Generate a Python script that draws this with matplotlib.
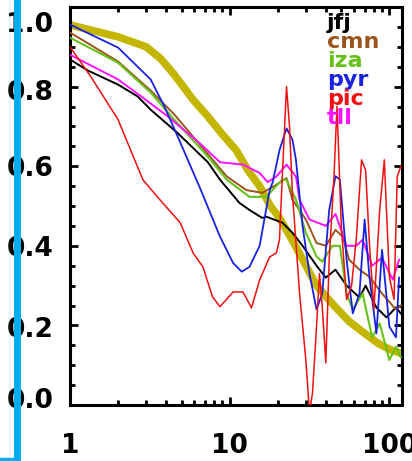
import matplotlib
matplotlib.use("Agg")
import matplotlib.pyplot as plt
from matplotlib.lines import Line2D
from matplotlib.transforms import ScaledTranslation
from matplotlib.ticker import LogLocator, FixedLocator, NullFormatter, FixedFormatter

# ---------------- data ----------------
model_x = [1, 2, 3, 3.7, 4.5, 5.9, 7.3, 9, 11, 13, 15.4, 18, 20.5, 25, 30, 35, 45, 56, 70, 85, 100, 118]
model_y = [0.955, 0.925, 0.90, 0.87, 0.83, 0.767, 0.725, 0.68, 0.64, 0.59, 0.55, 0.50, 0.47, 0.41, 0.35, 0.30,
           0.25, 0.21, 0.18, 0.155, 0.14, 0.13]

jfj_x = [1, 1.3, 2, 2.66, 3.2, 4.7, 7.3, 8.7, 11.5, 13.3, 16, 17, 21.4, 24.7, 28.6, 35, 40, 46, 54, 65, 71, 83, 96, 110, 118]
jfj_y = [0.868, 0.84, 0.805, 0.775, 0.742, 0.684, 0.61, 0.566, 0.508, 0.49, 0.47, 0.473, 0.458, 0.433, 0.40,
         0.35, 0.32, 0.34, 0.30, 0.27, 0.30, 0.245, 0.22, 0.245, 0.23]

cmn_x = [1, 2, 3.2, 4.5, 6.8, 9.6, 12.7, 16, 19, 22.7, 24.7, 30, 35, 40, 46, 51, 56, 65, 75, 90, 110, 118]
cmn_y = [0.936, 0.863, 0.79, 0.73, 0.645, 0.574, 0.54, 0.533, 0.55, 0.57, 0.516, 0.466, 0.407, 0.40, 0.44,
         0.423, 0.365, 0.34, 0.322, 0.28, 0.24, 0.25]

iza_x = [1, 2, 3.2, 4.5, 7.3, 9.6, 13.3, 17, 19, 21.4, 22.7, 26, 30, 35, 38, 44, 49, 54, 59, 68, 78, 87, 100, 110, 118]
iza_y = [0.923, 0.86, 0.785, 0.717, 0.624, 0.566, 0.523, 0.523, 0.545, 0.566, 0.566, 0.516, 0.433, 0.373,
         0.36, 0.40, 0.40, 0.28, 0.24, 0.28, 0.17, 0.205, 0.113, 0.146, 0.12]

pyr_x = [1, 2, 3.2, 3.9, 4.9, 6.6, 8.7, 10.5, 11.9, 13.3, 15.4, 17.8, 18.6, 20.5, 22.7, 24.7, 26, 28.6, 31.6,
         35, 38, 42, 46, 49, 54, 59, 65, 70, 75, 83, 90, 100, 110, 115]
pyr_y = [0.956, 0.898, 0.818, 0.75, 0.66, 0.54, 0.423, 0.357, 0.335, 0.347, 0.40, 0.54, 0.56, 0.64, 0.695,
         0.667, 0.616, 0.45, 0.33, 0.24, 0.28, 0.49, 0.575, 0.566, 0.365, 0.23, 0.28, 0.466, 0.322, 0.18,
         0.39, 0.197, 0.17, 0.32]

pic_x = [1, 1.35, 2, 2.86, 3.65, 4.9, 5.9, 6.8, 7.8, 8.7, 10.5, 12.1, 13.7, 15.4, 17.8, 19.6, 20.5, 21.5,
         22.7, 23.7, 24.7, 27.4, 30, 31.6, 33, 35, 36.5, 38, 40, 42, 45, 47, 50, 54, 58, 62, 67, 71, 75, 80,
         87, 93, 100, 107, 112, 118]
pic_y = [0.90, 0.825, 0.717, 0.566, 0.516, 0.458, 0.382, 0.347, 0.272, 0.247, 0.284, 0.284, 0.244, 0.314,
         0.372, 0.382, 0.415, 0.60, 0.80, 0.70, 0.533, 0.28, 0.113, -0.02, 0.03, 0.197, 0.33, 0.247, 0.106,
         0.365, 0.574, 0.75, 0.45, 0.265, 0.30, 0.415, 0.616, 0.59, 0.407, 0.24, 0.49, 0.616, 0.322, 0.265,
         0.574, 0.60]

tll_x = [1, 2, 2.8, 4.1, 6.6, 8.7, 12.1, 15.4, 17.3, 19.6, 22.7, 26, 27.4, 31.6, 40, 46, 54, 62, 68, 78, 90, 105, 115]
tll_y = [0.88, 0.818, 0.775, 0.725, 0.655, 0.61, 0.604, 0.583, 0.56, 0.574, 0.604, 0.574, 0.516, 0.466, 0.45,
         0.48, 0.40, 0.40, 0.415, 0.35, 0.37, 0.315, 0.365]

labels = ["jfj", "cmn", "iza", "pyr", "pic", "tll"]
x_tick_vals = [1, 10, 100]
x_tick_labels = ["1", "10", "100"]
y_tick_vals = [0.0, 0.2, 0.4, 0.6, 0.8, 1.0]
y_tick_labels = ["0.0", "0.2", "0.4", "0.6", "0.8", "1.0"]

# ---------------- style ----------------
colors = {"jfj": "#000000", "cmn": "#9A541C", "iza": "#66C21A",
          "pyr": "#1A22E0", "pic": "#F01010", "tll": "#FF10FF"}
olive = "#C4B600"

W, H = 412, 461
fig = plt.figure(figsize=(W / 100, H / 100), dpi=100)
ax = fig.add_axes([70 / W, 1 - 405 / H, (402 - 70) / W, (405 - 7) / H])

ax.plot(model_x, model_y, color=olive, lw=5.5, solid_capstyle="butt", zorder=2)
series = {"jfj": (jfj_x, jfj_y), "cmn": (cmn_x, cmn_y), "iza": (iza_x, iza_y),
          "tll": (tll_x, tll_y), "pyr": (pyr_x, pyr_y), "pic": (pic_x, pic_y)}
lws = {"jfj": 1.4, "cmn": 1.4, "iza": 1.5, "pyr": 1.3, "pic": 1.1, "tll": 1.4}
for name in ["jfj", "cmn", "iza", "tll", "pyr", "pic"]:
    xs, ys = series[name]
    ax.plot(xs, ys, color=colors[name], lw=lws[name], zorder=3)

ax.set_xscale("log")
ax.set_xlim(1, 120)
ax.set_ylim(0, 1.0)

ax.xaxis.set_major_locator(FixedLocator(x_tick_vals))
ax.xaxis.set_major_formatter(FixedFormatter(x_tick_labels))
ax.xaxis.set_minor_locator(LogLocator(base=10, subs=range(2, 10)))
ax.xaxis.set_minor_formatter(NullFormatter())
ax.yaxis.set_major_locator(FixedLocator(y_tick_vals))
ax.yaxis.set_major_formatter(FixedFormatter(y_tick_labels))
ax.yaxis.set_minor_locator(FixedLocator([i * 0.05 for i in range(21)]))

for s in ax.spines.values():
    s.set_linewidth(2.2)

ax.tick_params(which="both", direction="in", top=True, right=True, width=2.0)
ax.tick_params(which="major", length=6)
ax.tick_params(which="minor", length=3.5)
ax.tick_params(axis="x", which="major", pad=20)
ax.tick_params(axis="y", which="major", pad=12)
for lab in ax.get_xticklabels() + ax.get_yticklabels():
    lab.set_fontfamily("DejaVu Sans")
    lab.set_fontweight("bold")
    lab.set_fontsize(19)

# end labels of the y axis sit slightly inward, as in the reference
ylabs = ax.get_yticklabels()
ylabs[0].set_transform(ylabs[0].get_transform() + ScaledTranslation(0, 7 / 100, fig.dpi_scale_trans))
ylabs[-1].set_transform(ylabs[-1].get_transform() + ScaledTranslation(0, -15 / 100, fig.dpi_scale_trans))
ylabs[1].set_transform(ylabs[1].get_transform() + ScaledTranslation(0, -2 / 100, fig.dpi_scale_trans))
ylabs[4].set_transform(ylabs[4].get_transform() + ScaledTranslation(0, -3 / 100, fig.dpi_scale_trans))

# legend-like text labels
for i, name in enumerate(labels):
    fig.text(327 / W, 1 - (29 + 19 * i) / H, name, color=colors[name],
             fontsize=16, fontweight="bold", family="DejaVu Sans", va="baseline", ha="left")

# blue bracket at the left edge
fig.add_artist(Line2D([17 / W, 17 / W], [1.0, 2 / H], color="#00AEEF", lw=5, zorder=10))
fig.add_artist(Line2D([0, 17 / W], [2 / H, 2 / H], color="#00AEEF", lw=2.5, zorder=10))

fig.savefig("out.png", dpi=100)
